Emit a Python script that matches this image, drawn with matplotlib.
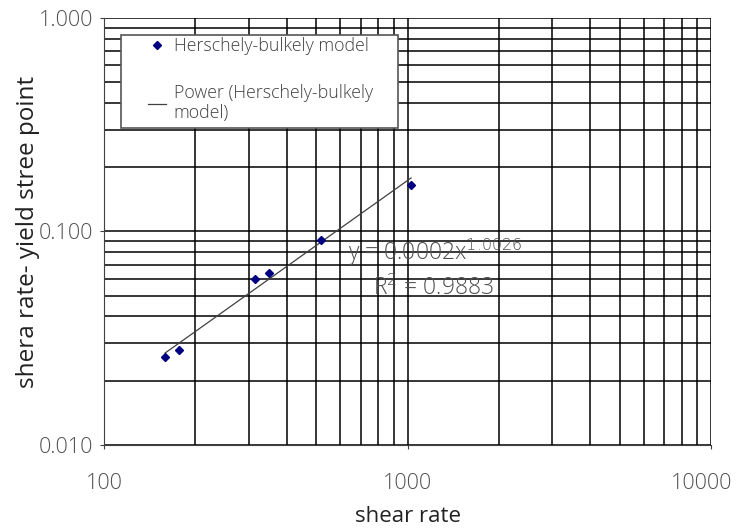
import numpy as np
import matplotlib
matplotlib.use("Agg")
import matplotlib.pyplot as plt
import matplotlib.transforms as mtransforms
from matplotlib.patches import Rectangle
from matplotlib.ticker import FixedLocator, FixedFormatter, LogLocator, NullFormatter

shear_rate = [159, 177, 314, 350, 519, 1027]
stress = [0.0258, 0.0279, 0.0599, 0.0639, 0.0912, 0.165]
x_ticks = [100, 1000, 10000]
x_tick_labels = ["100", "1000", "10000"]
y_ticks = [0.01, 0.1, 1.0]
y_tick_labels = ["0.010", "0.100", "1.000"]

plt.rcParams['font.family'] = ['Open Sans', 'DejaVu Sans']
plt.rcParams['font.weight'] = 'light'

fig = plt.figure(figsize=(7.4, 5.29), dpi=100)
ax = fig.add_axes([0.1405, 0.1588, 0.8205, 0.8072])
ax.set_xscale('log')
ax.set_yscale('log')
ax.set_xlim(100, 10000)
ax.set_ylim(0.01, 1.0)

ax.xaxis.set_major_locator(FixedLocator(x_ticks))
ax.xaxis.set_major_formatter(FixedFormatter(x_tick_labels))
ax.yaxis.set_major_locator(FixedLocator(y_ticks))
ax.yaxis.set_major_formatter(FixedFormatter(y_tick_labels))
ax.xaxis.set_minor_locator(LogLocator(base=10, subs=np.arange(2, 10)))
ax.yaxis.set_minor_locator(LogLocator(base=10, subs=np.arange(2, 10)))
ax.xaxis.set_minor_formatter(NullFormatter())
ax.yaxis.set_minor_formatter(NullFormatter())

ax.grid(True, which='both', color='black', linewidth=1.1)
ax.set_axisbelow(True)
for s in ['top', 'right']:
    ax.spines[s].set_visible(False)
for s in ['left', 'bottom']:
    ax.spines[s].set_color('#404040')
ax.tick_params(axis='y', which='major', labelsize=15.5, labelcolor='#505050', color='#404040', length=3, pad=5)
ax.tick_params(axis='x', which='major', labelsize=15.5, labelcolor='#505050', color='#404040', length=3, pad=17)
ax.tick_params(axis='both', which='minor', length=0)

# shift last x tick label left so it fits (as in the original)
fig.canvas.draw()
last = ax.xaxis.get_majorticklabels()[-1]
last.set_transform(last.get_transform() + mtransforms.ScaledTranslation(-10 / 100, 0, fig.dpi_scale_trans))

# power trendline from log-log least squares
lx = np.log10(shear_rate)
ly = np.log10(stress)
b, a = np.polyfit(lx, ly, 1)
xs = np.array([min(shear_rate), max(shear_rate)])
ys = 10 ** a * xs ** b

ax.plot(shear_rate, stress, linestyle='none', marker='D', markersize=4.5, color='#000080',
        label='Herschely-bulkely model', zorder=4)
ax.plot(xs, ys, color='#404040', linewidth=0.9, label='Power (Herschely-bulkely\nmodel)', zorder=3)

ax.text(0.402, 0.433, r"y = 0.0002x$^{1.0026}$", transform=ax.transAxes, fontsize=16.5,
        color='#505050', va='baseline')
ax.text(0.443, 0.351, r"R$^{2}$ = 0.9883", transform=ax.transAxes, fontsize=16.5,
        color='#505050', va='baseline')

# legend box
ax.add_patch(Rectangle((0.028, 0.742), 0.456, 0.218, transform=ax.transAxes,
                       facecolor='white', edgecolor='#555555', linewidth=1.2, zorder=5))
leg = ax.legend(loc='upper left', bbox_to_anchor=(0.0725, 0.955), fontsize=12.8, frameon=False,
                borderpad=0, borderaxespad=0, labelspacing=1.6, handlelength=1.0,
                handletextpad=0.45, labelcolor='#404040')
leg.set_zorder(6)

ax.set_xlabel('shear rate', fontsize=16, color='#222222', fontweight='normal')
ax.set_ylabel('shera rate- yield stree point', fontsize=17.5, color='#222222', fontweight='normal')
ax.xaxis.set_label_coords(0.5, -0.142)
ax.yaxis.set_label_coords(-0.105, 0.5)

fig.savefig('out.png', dpi=100)
